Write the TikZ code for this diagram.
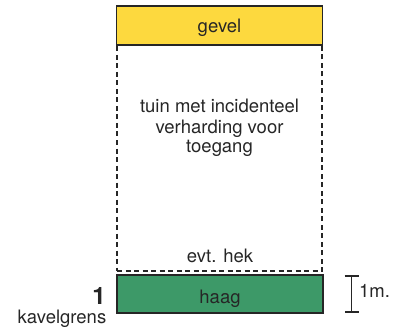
\documentclass[tikz,border=0pt]{standalone}
\usepackage{fontspec}
\setmainfont{TeX Gyre Heros}
\usetikzlibrary{positioning,arrows.meta}
\definecolor{gevelgeel}{HTML}{FDD93E}
\definecolor{haaggroen}{HTML}{3D9968}

\begin{document}
\begin{tikzpicture}[
  x=1pt, y=-1pt,
  font=\fontsize{18.5}{20}\selectfont,
  strook/.style={draw=black!85, line width=1.8pt, minimum width=206pt, inner sep=0pt},
  tuinvak/.style={draw=black!85, line width=1.6pt, dash pattern=on 5pt off 3.5pt,
                  minimum width=205pt, minimum height=226pt, inner sep=0pt},
  lbl/.style={text=black!85, align=center, inner sep=0pt, anchor=base},
]
\useasboundingbox (0,0) rectangle (403,331);

% ---- tuin (dashed) ----
\node[tuinvak] (tuin) at (219.5,158) {};

% ---- gevel and haag ----
\node[strook, fill=gevelgeel, minimum height=39pt] (gevel) at (219.5,25.5) {};
\node[strook, fill=haaggroen, minimum height=38pt] (haag) at (220,294) {};
\node[lbl] (geveltekst) at (219.5,33) {gevel};
\node[lbl] (haagtekst) at (220,303) {haag};

% ---- texts in the garden ----
\node[lbl] (tuin1) at (219.5,113) {tuin met incidenteel};
\node[lbl] (tuin2) at (219.5,133) {verharding voor};
\node[lbl] (tuin3) at (219.5,152) {toegang};
\node[lbl] (hek) at (220,262) {evt. hek};

% ---- 1m. measure ----
\coordinate (maatboven) at (351.5,275);
\coordinate (maatonder) at (351.5,313);
\draw[line width=1.6pt, black!85, {Bar[width=14pt]}-{Bar[width=14pt]}] (maatboven) -- (maatonder);
\node[lbl, anchor=base west] (maat) at (359,297) {1m.};

% ---- kavelgrens ----
\node[lbl, font=\fontsize{24}{26}\bfseries] (nr) at (99,304) {1};
\node[lbl] (kavelgrens) at (62,323) {kavelgrens};
\end{tikzpicture}
\end{document}
